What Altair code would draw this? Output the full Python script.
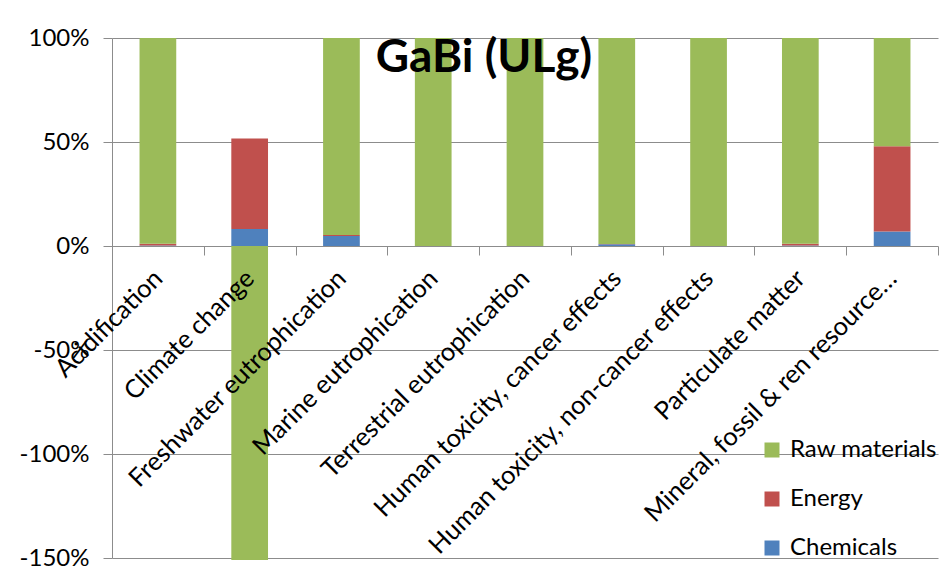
import altair as alt
import pandas as pd

categories = [
    "Acidification",
    "Climate change",
    "Freshwater eutrophication",
    "Marine eutrophication",
    "Terrestrial eutrophication",
    "Human toxicity, cancer effects",
    "Human toxicity, non-cancer effects",
    "Particulate matter",
    "Mineral, fossil & ren resource\u2026",
]
chemicals = [0.2, 8.2, 4.8, 0.0, 0.0, 0.8, 0.0, 0.2, 7.0]
energy = [0.9, 43.5, 0.5, 0.0, 0.0, 0.2, 0.0, 0.9, 41.0]
raw_materials = [98.9, -151.0, 94.7, 100.0, 100.0, 99.0, 100.0, 98.9, 52.0]

series_names = ["Raw materials", "Energy", "Chemicals"]
series_colors = ["#9BBB59", "#C0504D", "#4F81BD"]
y_ticks = [-150, -100, -50, 0, 50, 100]

rows = []
for i, c in enumerate(categories):
    rows.append({"cat": c, "series": "Chemicals", "value": chemicals[i], "ord": 0})
    rows.append({"cat": c, "series": "Energy", "value": energy[i], "ord": 1})
    rows.append({"cat": c, "series": "Raw materials", "value": raw_materials[i], "ord": 2})
df = pd.DataFrame(rows)

FONT = "Lato"
GRID = "#8C8C8C"

chart = alt.Chart(df).mark_bar(width=alt.RelativeBandSize(0.4)).encode(
    x=alt.X(
        "cat:N",
        sort=categories,
        scale=alt.Scale(paddingInner=0, paddingOuter=0),
        axis=alt.Axis(
            title=None, labelAngle=-45, labelAlign="right", labelBaseline="middle",
            labelFontSize=25.5, labelFont=FONT, labelColor="black", labelLimit=1000,
            domain=False, ticks=True, tickBand="extent", tickSize=9, tickColor=GRID,
            labelPadding=19, labelOffset=0, offset=-312, zindex=1, grid=False,
        ),
    ),
    y=alt.Y(
        "value:Q",
        stack="zero",
        scale=alt.Scale(domain=[-150, 100], nice=False),
        axis=alt.Axis(
            title=None, values=y_ticks, labelExpr="datum.value + '%'",
            grid=True, gridColor=GRID, domainColor=GRID, tickColor=GRID, tickSize=9,
            labelFontSize=24, labelFont=FONT, labelPadding=14, labelColor="black",
        ),
    ),
    color=alt.Color(
        "series:N",
        scale=alt.Scale(domain=series_names, range=series_colors),
        legend=alt.Legend(
            title=None, orient="none", legendX=648, legendY=400, symbolType="square",
            symbolSize=225, labelFontSize=24, labelFont=FONT, rowPadding=25,
            labelOffset=6, padding=0, symbolStrokeWidth=0, labelColor="black",
        ),
    ),
    order=alt.Order("ord:Q", sort="ascending"),
).properties(
    width=826,
    height=520,
    title=alt.TitleParams(
        "GaBi (ULg)", font=FONT, fontSize=46, fontWeight="bold", anchor="middle",
        frame="group", offset=-34, baseline="alphabetic", dx=-41, dy=58, color="black",
    ),
    padding={"left": 104, "top": 30, "right": 1, "bottom": 16},
    autosize=alt.AutoSizeParams(type="none"),
).configure_view(stroke=None)

chart.save("out.html", embed_options={"renderer": "svg", "actions": False})
